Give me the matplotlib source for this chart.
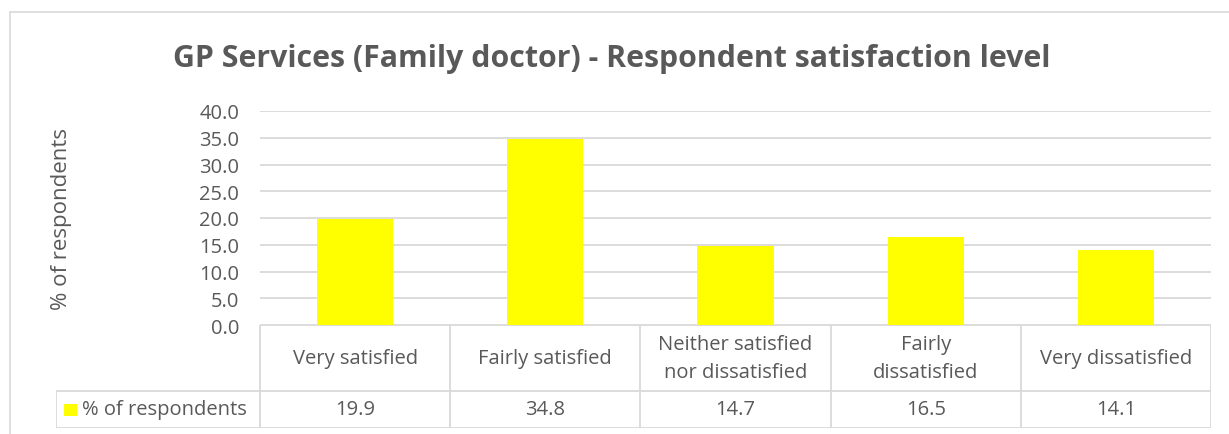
import matplotlib
matplotlib.use("Agg")
import matplotlib.pyplot as plt
from matplotlib.patches import Rectangle

# satisfaction categories and share of respondents (%)
categories = ["Very satisfied", "Fairly satisfied", "Neither satisfied\nnor dissatisfied",
              "Fairly\ndissatisfied", "Very dissatisfied"]
values = [19.9, 34.8, 14.7, 16.5, 14.1]
series_name = "% of respondents"
title = "GP Services (Family doctor) - Respondent satisfaction level"
yticks = [0, 5, 10, 15, 20, 25, 30, 35, 40]

BAR = "#FFFF00"
GRID = "#D9D9D9"
TXT = "#595959"
FONT = ["Open Sans", "DejaVu Sans"]

W, H = 1229, 435
plt.rcParams["font.family"] = FONT
fig = plt.figure(figsize=(W / 100, H / 100), dpi=100)


def px(left, top, right, bottom):
    # figure-pixel box -> axes rect
    return [left / W, 1 - bottom / H, (right - left) / W, (bottom - top) / H]


# outer chart frame (runs off the right/bottom edge)
fig.patches.append(Rectangle((10 / W, -0.1), 1.1, 1 - 13 / H + 0.1, transform=fig.transFigure,
                             fill=False, ec=GRID, lw=1.2))

ax = fig.add_axes(px(260, 112, 1211, 326))
x = list(range(len(values)))
ax.bar(x, values, width=0.4, color=BAR, zorder=3)
ax.set_xlim(-0.5, len(values) - 0.5)
ax.set_ylim(yticks[0], yticks[-1])
ax.set_yticks(yticks)
ax.set_yticklabels([f"{v:.1f}" for v in yticks], fontsize=14.5, color=TXT)
ax.tick_params(axis="y", length=0, pad=15)
ax.set_xticks([])
ax.grid(axis="y", color=GRID, lw=1.3, zorder=0)
for s in ax.spines.values():
    s.set_visible(False)

fig.text(62 / W, 1 - 219 / H, series_name, rotation=90, ha="center", va="center",
         fontsize=16, color=TXT)
fig.text(612 / W, 1 - 59 / H, title, ha="center", va="center",
         fontsize=21.8, fontweight="bold", color=TXT)

# data table under the axis
tab = fig.add_axes(px(56, 326, 1211, 429))
col_w = (1211 - 260) / len(values)
lead = (260 - 56) / col_w
tab.set_xlim(-0.5 - lead, len(values) - 0.5)
tab.set_ylim(0, 1)
tab.axis("off")
mid = (429 - 392) / (429 - 326)
kw = dict(color=GRID, lw=1.3, solid_capstyle="butt")
tab.plot([-0.5, len(values) - 0.5], [1, 1], **kw)
tab.plot([-0.5 - lead, len(values) - 0.5], [mid, mid], **kw)
tab.plot([-0.5 - lead, len(values) - 0.5], [0, 0], **kw)
tab.plot([-0.5 - lead, -0.5 - lead], [0, mid], **kw)
for i in range(len(values) + 1):
    tab.plot([i - 0.5, i - 0.5], [0, 1], **kw)
for i, (c, v) in enumerate(zip(categories, values)):
    tab.text(i, (1 + mid) / 2, c, ha="center", va="center", fontsize=14.5,
             color=TXT, linespacing=1.55)
    tab.text(i, mid / 2, f"{v:.1f}", ha="center", va="center", fontsize=14.5, color=TXT)

key_x = -0.5 - lead + 8 / col_w
tab.add_patch(Rectangle((key_x, mid / 2 - 6 / 103), 13 / col_w, 12 / 103,
                        color=BAR, lw=0))
tab.text(key_x + 18 / col_w, mid / 2, series_name, ha="left", va="center",
         fontsize=14.5, color=TXT)

fig.savefig("out.png", dpi=100)
